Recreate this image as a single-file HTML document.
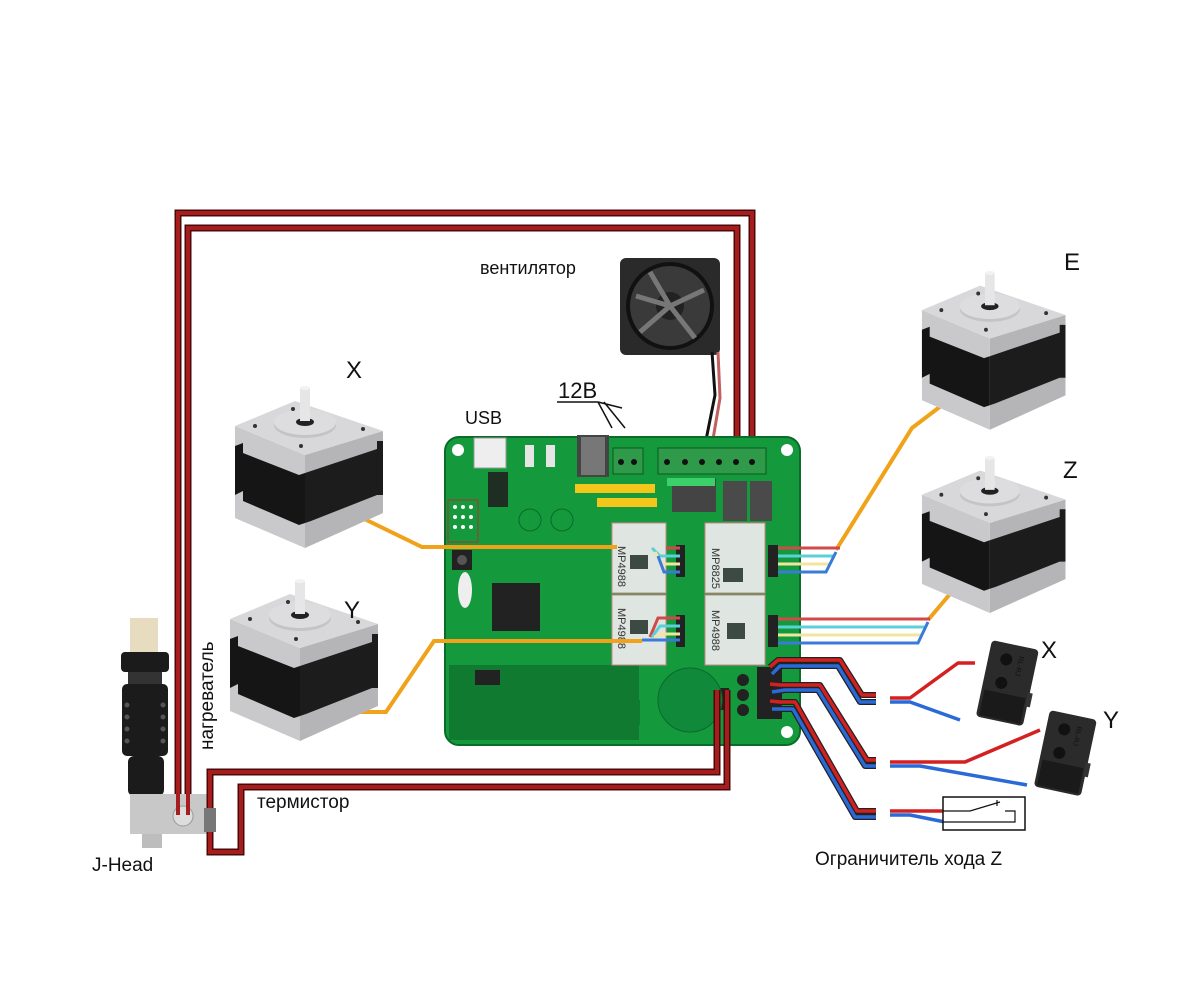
<!DOCTYPE html>
<html><head><meta charset="utf-8"><style>
html,body{margin:0;padding:0;background:#fff;}
svg{display:block}
text{font-family:"Liberation Sans",sans-serif;fill:#111}
</style></head><body>
<svg width="1200" height="1000" viewBox="0 0 1200 1000" xmlns="http://www.w3.org/2000/svg">
<defs>
<g id="motor">
  <!-- local coords: 0..150 x 0..170 -->
  <polygon points="2,43 72,72 72,165 2,135" fill="#c9c9cb"/>
  <polygon points="72,72 150,48 150,130 72,165" fill="#b5b5b8"/>
  <polygon points="2,63 10,60 10,70 66,92 72,90 72,140 66,142 10,118 10,108 2,112" fill="#151515"/>
  <polygon points="72,90 78,88 144,66 144,58 150,58 150,112 144,112 78,138 72,140" fill="#1c1c1c"/>
  <polygon points="2,43 62,18 150,48 72,72" fill="#d8d8da"/>
  <ellipse cx="72" cy="42" rx="31" ry="13" fill="#c4c4c6"/>
  <ellipse cx="72" cy="39" rx="31" ry="13" fill="#dddddf"/>
  <ellipse cx="72" cy="39" rx="9" ry="4" fill="#222"/>
  <rect x="67" y="5" width="10" height="33" fill="#e6e6e6"/>
  <ellipse cx="72" cy="5" rx="5" ry="2" fill="#f2f2f2"/>
  <circle cx="22" cy="43" r="2" fill="#333"/><circle cx="130" cy="46" r="2" fill="#333"/>
  <circle cx="68" cy="63" r="2" fill="#333"/><circle cx="60" cy="26" r="2" fill="#333"/>
</g>
<g id="switch">
  <rect x="0" y="0" width="48" height="78" rx="4" fill="#2b2b2b"/>
  <rect x="3" y="50" width="42" height="26" fill="#1a1a1a"/>
  <circle cx="18" cy="16" r="6" fill="#111"/><circle cx="18" cy="40" r="6" fill="#111"/>
  <rect x="46" y="44" width="5" height="14" fill="#333"/>
  <text x="30" y="10" font-size="7" fill="#7ab" transform="rotate(90 30 10)">RL-RJ</text>
</g>
</defs>

<!-- heater wires -->
<g fill="none" stroke-linejoin="miter">
<path d="M178,815 V213 H752 V445" stroke="#4a0808" stroke-width="7"/>
<path d="M178,815 V213 H752 V445" stroke="#a51d1d" stroke-width="4"/>
<path d="M188,815 V228 H737 V445" stroke="#4a0808" stroke-width="7"/>
<path d="M188,815 V228 H737 V445" stroke="#a51d1d" stroke-width="4"/>
</g>

<!-- fan -->
<rect x="620" y="258" width="100" height="97" rx="6" fill="#2a2a2a"/>
<circle cx="670" cy="306" r="44" fill="#111"/>
<circle cx="670" cy="306" r="40" fill="#3a3a3a"/>
<circle cx="670" cy="306" r="14" fill="#222"/>
<path d="M670,306 L650,272 M670,306 L704,290 M670,306 L695,338 M670,306 L640,332 M670,306 L636,296" stroke="#777" stroke-width="5"/>
<path d="M712,352 L715,395 L705,445" stroke="#111" stroke-width="3" fill="none"/>
<path d="M718,352 L720,398 L712,445" stroke="#c06060" stroke-width="3" fill="none"/>

<!-- board -->
<rect x="445" y="437" width="355" height="308" rx="14" fill="#149a3c"/>
<rect x="445" y="437" width="355" height="308" rx="14" fill="none" stroke="#0b6b28" stroke-width="2"/>
<g fill="#fff"><circle cx="458" cy="450" r="6"/><circle cx="787" cy="450" r="6"/><circle cx="458" cy="732" r="6"/><circle cx="787" cy="732" r="6"/></g>
<g fill="#117a31">
<rect x="449" y="665" width="190" height="75"/>
<rect x="480" y="700" width="160" height="25"/>
</g>
<!-- USB -->
<rect x="474" y="438" width="32" height="30" fill="#eee" stroke="#999"/>
<!-- power jack -->
<rect x="577" y="435" width="32" height="42" fill="#444"/>
<rect x="581" y="437" width="24" height="38" fill="#777"/>
<!-- terminals -->
<rect x="613" y="448" width="30" height="26" fill="#2e9a4a" stroke="#0a5a20"/>
<rect x="658" y="448" width="108" height="26" fill="#2e9a4a" stroke="#0a5a20"/>
<g fill="#111"><circle cx="621" cy="462" r="3"/><circle cx="634" cy="462" r="3"/>
<circle cx="667" cy="462" r="3"/><circle cx="685" cy="462" r="3"/><circle cx="702" cy="462" r="3"/><circle cx="719" cy="462" r="3"/><circle cx="736" cy="462" r="3"/><circle cx="752" cy="462" r="3"/></g>
<rect x="525" y="445" width="9" height="22" fill="#e5e5e5"/><rect x="546" y="445" width="9" height="22" fill="#e5e5e5"/>
<rect x="575" y="484" width="80" height="9" fill="#f2c61a"/>
<rect x="597" y="498" width="60" height="9" fill="#f2c61a"/>
<rect x="672" y="478" width="44" height="34" fill="#444"/>
<rect x="667" y="478" width="48" height="8" fill="#3cd06a"/>
<rect x="723" y="481" width="24" height="40" fill="#4a4a4a"/><rect x="750" y="481" width="22" height="40" fill="#4a4a4a"/>
<rect x="488" y="472" width="20" height="35" fill="#1e2e22"/>
<rect x="448" y="500" width="30" height="42" fill="none" stroke="#b03030"/>
<g fill="#fff"><circle cx="455" cy="507" r="2"/><circle cx="463" cy="507" r="2"/><circle cx="471" cy="507" r="2"/><circle cx="455" cy="517" r="2"/><circle cx="463" cy="517" r="2"/><circle cx="471" cy="517" r="2"/><circle cx="455" cy="527" r="2"/><circle cx="463" cy="527" r="2"/><circle cx="471" cy="527" r="2"/></g>
<circle cx="530" cy="520" r="11" fill="none" stroke="#0a6a28"/><circle cx="562" cy="520" r="11" fill="none" stroke="#0a6a28"/>
<rect x="452" y="550" width="20" height="20" fill="#222"/><circle cx="462" cy="560" r="5" fill="#555"/>
<ellipse cx="465" cy="590" rx="7" ry="18" fill="#eee"/>
<rect x="492" y="583" width="48" height="48" fill="#222"/>
<!-- drivers -->
<rect x="612" y="523" width="54" height="70" fill="#dfe5e0" stroke="#c88"/>
<rect x="612" y="595" width="54" height="70" fill="#dfe5e0" stroke="#c88"/>
<rect x="705" y="523" width="60" height="70" fill="#dfe5e0" stroke="#c88"/>
<rect x="705" y="595" width="60" height="70" fill="#dfe5e0" stroke="#c88"/>
<g fill="#3d4a43"><rect x="630" y="555" width="18" height="14"/><rect x="630" y="620" width="18" height="14"/><rect x="723" y="568" width="20" height="14"/><rect x="727" y="623" width="18" height="16"/></g>
<g font-size="11" fill="#333">
<text x="618" y="546" transform="rotate(90 618 546)" style="fill:#333">MP4988</text>
<text x="618" y="608" transform="rotate(90 618 608)" style="fill:#333">MP4988</text>
<text x="712" y="548" transform="rotate(90 712 548)" style="fill:#333">MP8825</text>
<text x="712" y="610" transform="rotate(90 712 610)" style="fill:#333">MP4988</text>
</g>
<g fill="#222"><rect x="676" y="545" width="9" height="32"/><rect x="676" y="615" width="9" height="32"/><rect x="768" y="545" width="10" height="32"/><rect x="768" y="615" width="10" height="32"/><rect x="757" y="667" width="25" height="52"/><rect x="707" y="688" width="22" height="22"/></g>
<circle cx="690" cy="700" r="32" fill="#11893a" stroke="#0a6a28"/>
<g fill="#222"><circle cx="743" cy="680" r="6"/><circle cx="743" cy="695" r="6"/><circle cx="743" cy="710" r="6"/></g>
<rect x="475" y="670" width="25" height="15" fill="#222"/>
<g fill="none" stroke="#0a6a28"><rect x="420" y="0" width="0" height="0"/></g>

<!-- stepper wires on board -->
<g fill="none" stroke-width="3">
<path d="M666,548 H680" stroke="#d04a4a"/><path d="M652,548 L660,556 H680" stroke="#5ad0d8"/><path d="M655,552 L662,564 H680" stroke="#f0e6a0"/><path d="M658,556 L664,572 H680" stroke="#3a7ad8"/>
<path d="M650,637 L658,618 H680" stroke="#d04a4a"/><path d="M652,637 L660,626 H680" stroke="#5ad0d8"/><path d="M654,637 L662,634 H680" stroke="#f0e6a0"/><path d="M642,640 H680" stroke="#3a7ad8"/>
</g>

<!-- orange wires -->
<g fill="none" stroke="#f0a21a" stroke-width="4">
<path d="M348,511 L422,547 H617"/>
<path d="M330,712 H386 L434,641 H642"/>
<path d="M958,393 L912,428 L836,550"/>
<path d="M928,620 L950,594"/>
</g>
<!-- 4-wire bundles to E and Z -->
<g fill="none" stroke-width="3">
<path d="M778,548 H840" stroke="#d04a4a"/><path d="M778,556 H834" stroke="#5ad0d8"/><path d="M778,564 H830" stroke="#f0e6a0"/><path d="M778,572 H826 L836,552" stroke="#3a7ad8"/>
<path d="M778,619 H930" stroke="#d04a4a"/><path d="M778,627 H926" stroke="#5ad0d8"/><path d="M778,635 H922" stroke="#f0e6a0"/><path d="M778,643 H918 L928,622" stroke="#3a7ad8"/>
</g>

<!-- endstop wires -->
<g fill="none" stroke-linejoin="round">
<g stroke="#222" stroke-width="6">
<path d="M770,667 L778,660 H840 L862,695 H876"/><path d="M772,674 L780,666 H838 L860,702 H876"/>
<path d="M770,684 L780,685 H820 L867,760 H876"/><path d="M772,692 L785,690 H818 L865,766 H876"/>
<path d="M770,701 L780,702 H795 L857,811 H876"/><path d="M772,709 L785,709 H793 L855,817 H876"/>
</g>
<g stroke-width="3.5">
<path d="M770,667 L778,660 H840 L862,695 H876" stroke="#d42020"/><path d="M772,674 L780,666 H838 L860,702 H876" stroke="#2a6ad8"/>
<path d="M770,684 L780,685 H820 L867,760 H876" stroke="#d42020"/><path d="M772,692 L785,690 H818 L865,766 H876" stroke="#2a6ad8"/>
<path d="M770,701 L780,702 H795 L857,811 H876" stroke="#d42020"/><path d="M772,709 L785,709 H793 L855,817 H876" stroke="#2a6ad8"/>
<path d="M890,698 H910 L958,663 H975" stroke="#d42020"/><path d="M890,702 H910 L960,720" stroke="#2a6ad8"/>
<path d="M890,762 H965 L1040,730" stroke="#d42020"/><path d="M890,766 H920 L1027,785" stroke="#2a6ad8"/>
<path d="M890,811 H945" stroke="#d42020"/><path d="M890,815 H910 L945,822" stroke="#2a6ad8"/>
</g>
</g>
<!-- Z switch box -->
<rect x="943" y="797" width="82" height="33" fill="#fff" stroke="#111" stroke-width="1.5"/>
<path d="M943,811 H970 L1000,802 M997,800 V806 M943,822 H1015 V811 H1005" fill="none" stroke="#111" stroke-width="1.2"/>
<!-- micro switches -->
<use href="#switch" transform="translate(992,640) rotate(12)"/>
<use href="#switch" transform="translate(1050,710) rotate(12)"/>

<!-- motors -->
<use href="#motor" transform="translate(233,383)"/>
<use href="#motor" transform="translate(228,576)"/>
<use href="#motor" transform="translate(920,268) scale(0.97,0.98)"/>
<use href="#motor" transform="translate(920,453) scale(0.97,0.97)"/>

<!-- hotend -->
<rect x="130" y="618" width="28" height="34" fill="#e7dcc0"/>
<rect x="121" y="652" width="48" height="20" rx="4" fill="#1b1b1b"/>
<rect x="128" y="672" width="34" height="12" fill="#333"/>
<rect x="122" y="684" width="46" height="72" rx="5" fill="#1b1b1b"/>
<rect x="128" y="756" width="36" height="40" rx="6" fill="#1b1b1b"/>
<g fill="#555"><circle cx="127" cy="705" r="2.5"/><circle cx="127" cy="717" r="2.5"/><circle cx="127" cy="729" r="2.5"/><circle cx="127" cy="741" r="2.5"/><circle cx="163" cy="705" r="2.5"/><circle cx="163" cy="717" r="2.5"/><circle cx="163" cy="729" r="2.5"/><circle cx="163" cy="741" r="2.5"/></g>
<rect x="130" y="794" width="78" height="40" fill="#c8c8c8"/>
<rect x="142" y="834" width="20" height="14" fill="#bdbdbd"/>
<circle cx="183" cy="816" r="10" fill="#ddd" stroke="#999"/>
<!-- heater wires end over hotend -->
<path d="M178,790 V815 M188,790 V815" stroke="#a51d1d" stroke-width="4"/>
<!-- thermistor -->
<g fill="none">
<path d="M717,690 V772 H210 V852 H241 V787 H727 V690" stroke="#4a0808" stroke-width="7"/>
<path d="M717,690 V772 H210 V852 H241 V787 H727 V690" stroke="#a51d1d" stroke-width="4"/>
</g>
<rect x="204" y="808" width="12" height="24" fill="#777"/>

<!-- labels -->
<text x="480" y="274" font-size="18">вентилятор</text>
<text x="465" y="424" font-size="18">USB</text>
<text x="558" y="398" font-size="22">12В</text>
<path d="M557,402 H598 L612,428 M598,402 L622,408 M604,402 L625,428" stroke="#111" stroke-width="1.5" fill="none"/>
<text x="346" y="378" font-size="24">X</text>
<text x="344" y="618" font-size="24">Y</text>
<text x="1064" y="270" font-size="24">E</text>
<text x="1063" y="478" font-size="24">Z</text>
<text x="1041" y="658" font-size="24">X</text>
<text x="1103" y="728" font-size="24">Y</text>
<text x="213" y="750" font-size="19" transform="rotate(-90 213 750)">нагреватель</text>
<text x="257" y="808" font-size="19">термистор</text>
<text x="92" y="871" font-size="19">J-Head</text>
<text x="815" y="865" font-size="19">Ограничитель хода Z</text>
</svg>
</body></html>
